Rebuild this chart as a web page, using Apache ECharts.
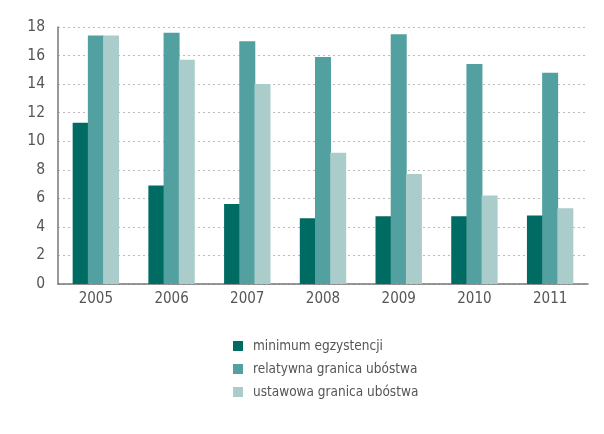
<!DOCTYPE html>
<html>
<head>
<meta charset="utf-8">
<script src="https://cdn.jsdelivr.net/npm/echarts@6/dist/echarts.min.js"></script>
<style>
html,body{margin:0;padding:0;background:#fff;}
#container{width:604px;height:434px;}
</style>
</head>
<body>
<div id="container"></div>
<script>
var years = ['2005','2006','2007','2008','2009','2010','2011'];
var seriesNames = ['minimum egzystencji','relatywna granica ubóstwa','ustawowa granica ubóstwa'];
var minimumEgz = [11.3, 6.9, 5.6, 4.6, 4.75, 4.75, 4.8];
var relatywna = [17.4, 17.6, 17.0, 15.9, 17.5, 15.4, 14.8];
var ustawowa = [17.4, 15.7, 14.0, 9.2, 7.7, 6.2, 5.3];
var colors = ['#006b62','#52a09f','#aacdcc'];

var font = '"DejaVu Sans Condensed","DejaVu Sans",sans-serif';
var dom = document.getElementById('container');
var myChart = echarts.init(dom);
var option = {
    animation: false,
    color: colors,
    grid: {left: 58, right: 16, top: 27, bottom: 150},
    legend: {
        orient: 'vertical',
        left: 228,
        top: 334,
        itemWidth: 10,
        itemHeight: 10,
        itemGap: 9,
        icon: 'rect',
        textStyle: {color: '#555', fontSize: 13.5, fontFamily: font, padding: [0, 0, 0, 5]},
        data: seriesNames
    },
    xAxis: {
        type: 'category',
        data: years,
        axisLine: {lineStyle: {color: '#777', width: 1.5}},
        axisTick: {show: false},
        axisLabel: {color: '#555', fontSize: 15, fontFamily: font, margin: 8}
    },
    yAxis: {
        type: 'value',
        min: 0,
        max: 18,
        interval: 2,
        axisLine: {show: true, lineStyle: {color: '#777', width: 1.5}},
        axisTick: {show: false},
        axisLabel: {color: '#555', fontSize: 15.5, fontFamily: font, margin: 13},
        splitLine: {lineStyle: {color: '#bbb', type: [2, 3]}}
    },
    series: [
        {name: seriesNames[0], type: 'bar', barWidth: 16, barGap: '-5%', data: minimumEgz},
        {name: seriesNames[1], type: 'bar', barWidth: 16, barGap: '-5%', data: relatywna},
        {name: seriesNames[2], type: 'bar', barWidth: 16, barGap: '-5%', data: ustawowa}
    ]
};
myChart.setOption(option, true);
</script>
</body>
</html>
